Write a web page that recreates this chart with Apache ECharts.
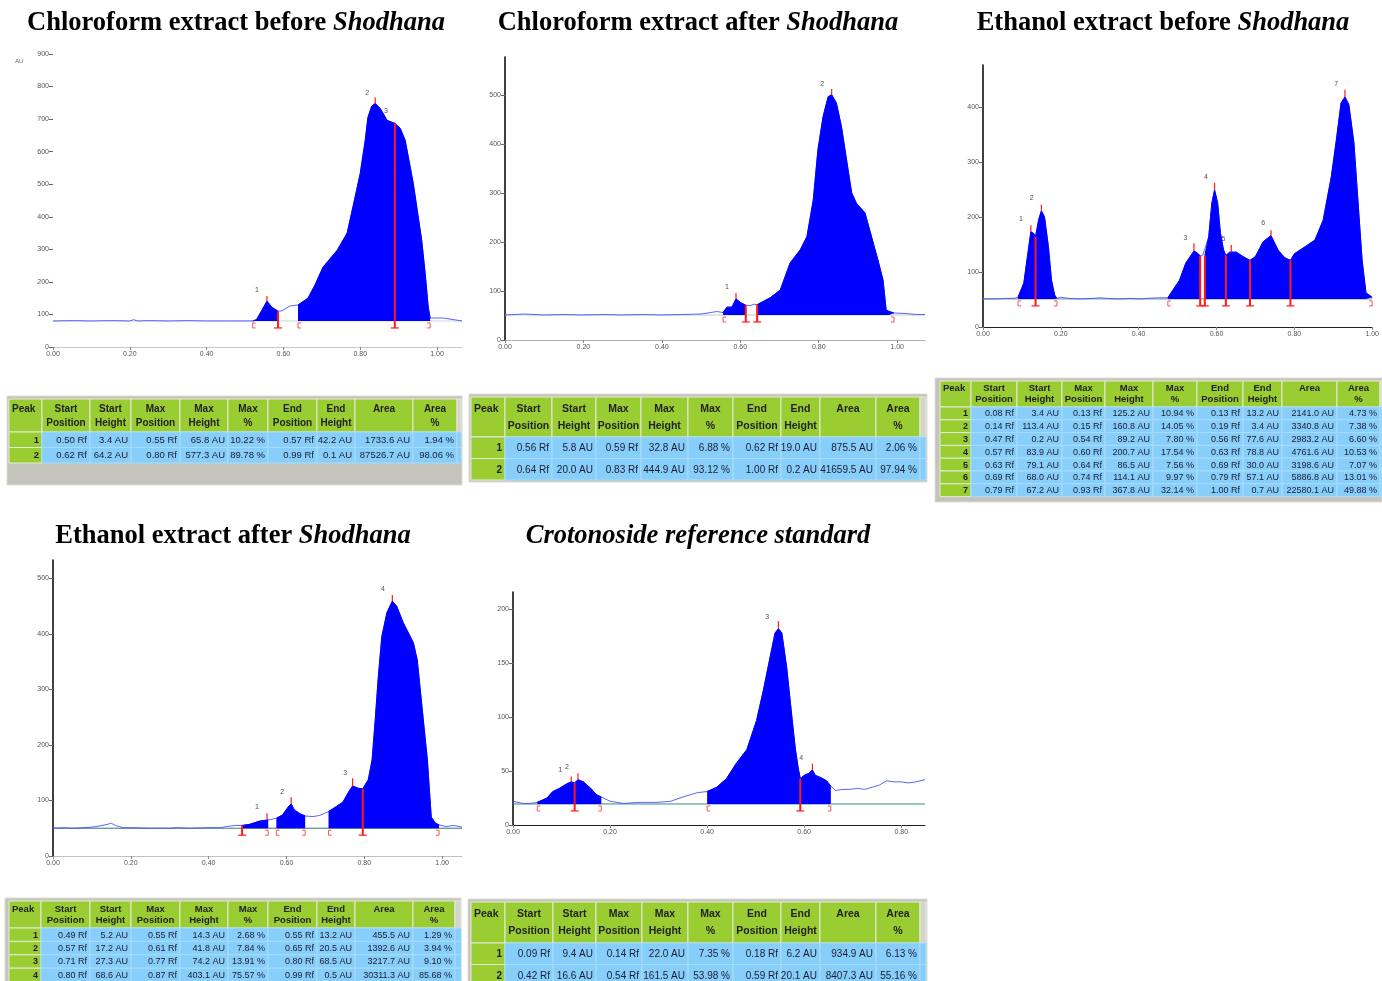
<!DOCTYPE html>
<html>
<head>
<meta charset="utf-8">
<script src="https://cdn.jsdelivr.net/npm/echarts@6/dist/echarts.min.js"></script>
<style>
html,body{margin:0;padding:0;background:#fff;}
#chart{width:1382px;height:981px;}
</style>
</head>
<body>
<div id="chart"></div>
<script>
// ---------- densitogram traces: Rf position and detector response (AU) ----------
const cbRf = [0, 0.05, 0.1, 0.15, 0.2, 0.21, 0.22, 0.25, 0.3, 0.35, 0.4, 0.45, 0.5, 0.52, 0.53, 0.545, 0.557, 0.57, 0.586, 0.596, 0.617, 0.638, 0.664, 0.682, 0.703, 0.74, 0.766, 0.781, 0.8, 0.813, 0.82, 0.83, 0.839, 0.852, 0.87, 0.89, 0.904, 0.917, 0.938, 0.96, 0.969, 0.977, 0.982, 0.987, 1.016, 1.065];
const cbAu = [80, 81, 80, 81, 80, 84, 80, 81, 80, 81, 80, 80, 80, 80, 84, 115, 141, 122, 110, 111, 126, 129, 150, 190, 245, 297, 350, 430, 533, 635, 705, 740, 748, 733, 696, 687, 672, 635, 503, 328, 227, 123, 89, 95, 89, 80];

const caRf = [0, 0.05, 0.1, 0.15, 0.2, 0.25, 0.3, 0.35, 0.4, 0.45, 0.5, 0.54, 0.556, 0.566, 0.579, 0.589, 0.601, 0.614, 0.625, 0.635, 0.643, 0.676, 0.702, 0.727, 0.753, 0.77, 0.786, 0.798, 0.811, 0.824, 0.833, 0.845, 0.858, 0.871, 0.884, 0.896, 0.918, 0.93, 0.951, 0.964, 0.972, 0.98, 0.992, 1.02, 1.05, 1.071];
const caAu = [51, 53, 51, 52, 51, 52, 51, 52, 51, 52, 53, 58, 56, 67, 67, 84, 76, 71, 70, 73, 72, 86, 102, 157, 184, 211, 285, 388, 455, 496, 500, 483, 435, 367, 300, 279, 259, 224, 163, 122, 61, 58, 55, 54, 52, 52];

const ebRf = [0, 0.03, 0.06, 0.08, 0.09, 0.105, 0.113, 0.123, 0.13, 0.135, 0.143, 0.15, 0.158, 0.168, 0.176, 0.184, 0.19, 0.2, 0.22, 0.25, 0.28, 0.3, 0.32, 0.35, 0.38, 0.4, 0.42, 0.45, 0.475, 0.488, 0.505, 0.521, 0.542, 0.55, 0.558, 0.565, 0.57, 0.58, 0.588, 0.595, 0.603, 0.61, 0.618, 0.624, 0.634, 0.651, 0.668, 0.686, 0.7, 0.72, 0.74, 0.758, 0.775, 0.79, 0.8, 0.828, 0.853, 0.874, 0.895, 0.908, 0.92, 0.93, 0.94, 0.953, 0.965, 0.974, 0.984, 1.0];
const ebAu = [51, 51, 52, 52, 54, 80, 122, 173, 170, 164, 195, 211, 200, 146, 85, 58, 52, 54, 52, 51, 52, 53, 52, 51, 52, 51, 52, 53, 53, 67, 85, 116, 138, 135, 129, 131, 130, 164, 225, 249, 225, 171, 140, 130, 136, 136, 128, 121, 128, 155, 166, 140, 126, 121, 133, 146, 158, 194, 273, 340, 407, 418, 404, 335, 213, 122, 62, 54];

const eaRf = [0, 0.03, 0.05, 0.08, 0.1, 0.12, 0.14, 0.15, 0.16, 0.18, 0.2, 0.25, 0.3, 0.32, 0.35, 0.4, 0.43, 0.445, 0.47, 0.486, 0.505, 0.532, 0.553, 0.561, 0.574, 0.59, 0.604, 0.612, 0.62, 0.635, 0.648, 0.668, 0.685, 0.708, 0.728, 0.745, 0.762, 0.77, 0.784, 0.796, 0.81, 0.82, 0.828, 0.836, 0.845, 0.858, 0.872, 0.883, 0.9, 0.926, 0.936, 0.949, 0.962, 0.972, 0.983, 0.992, 1.01, 1.03, 1.051];
const eaAu = [50, 51, 50, 51, 52, 54, 57, 59, 55, 51, 51, 50, 50, 51, 50, 51, 51, 53, 55, 55, 57, 63, 65, 66, 68, 74, 88, 94, 83, 76, 72, 71, 73, 80, 89, 97, 118, 126, 122, 121, 137, 173, 245, 323, 395, 438, 459, 450, 420, 384, 353, 263, 173, 70, 59, 56, 53, 55, 52];

const crRf = [0, 0.02, 0.035, 0.05, 0.07, 0.082, 0.096, 0.11, 0.12, 0.127, 0.134, 0.145, 0.16, 0.172, 0.182, 0.2, 0.228, 0.262, 0.297, 0.325, 0.35, 0.38, 0.4, 0.42, 0.44, 0.46, 0.482, 0.502, 0.516, 0.53, 0.54, 0.547, 0.554, 0.564, 0.574, 0.582, 0.588, 0.592, 0.6, 0.61, 0.617, 0.623, 0.634, 0.646, 0.655, 0.665, 0.68, 0.695, 0.71, 0.725, 0.74, 0.755, 0.77, 0.785, 0.8, 0.815, 0.83, 0.849];
const crAu = [22, 20, 20, 21, 25, 31, 34, 38, 40, 39, 42, 40, 34, 28, 26, 22, 20, 21, 21, 22, 26, 30, 31, 35, 43, 57, 70, 97, 125, 156, 178, 182, 178, 146, 103, 70, 52, 43, 46, 48, 51, 46, 44, 41, 36, 32, 33, 33, 34, 33, 35, 37, 41, 40, 40, 39, 40, 42];

// ---------- baselines, integrated ranges and peak marks ----------
const cbBase = 80, caBase = 51, ebBase = 51, eaBase = 50, crBase = 19.5;

const cbFills = [[0.52, 0.586], [0.638, 0.982]];
const caFills = [[0.556, 0.614], [0.643, 0.992]];
const ebFills = [[0.09, 0.19], [0.475, 0.558], [0.57, 1.0]];
const eaFills = [[0.486, 0.553], [0.574, 0.648], [0.708, 0.992]];
const crFills = [[0.05, 0.182], [0.4, 0.655]];

const cbMaxRf = [0.557, 0.839], cbMaxTop = [157, 766];
const caMaxRf = [0.589, 0.833], caMaxTop = [96, 512];
const ebMaxRf = [0.123, 0.15, 0.542, 0.595, 0.638, 0.74, 0.93], ebMaxTop = [185, 222, 152, 262, 149, 176, 431];
const eaMaxRf = [0.55, 0.612, 0.77, 0.872], eaMaxTop = [77, 106, 140, 470];
const crMaxRf = [0.12, 0.134, 0.547, 0.617], crMaxTop = [45, 48, 189, 57];

// edge kinds: 1 shared boundary, 2 start bracket, 3 end bracket
const cbEdges = [0.52, 0.586, 0.638, 0.89, 0.982], cbEdgeKind = [2, 1, 2, 1, 3];
const caEdges = [0.556, 0.614, 0.643, 0.992], caEdgeKind = [2, 1, 1, 3];
const ebEdges = [0.09, 0.135, 0.19, 0.475, 0.558, 0.57, 0.624, 0.686, 0.79, 1.0], ebEdgeKind = [2, 1, 3, 2, 1, 1, 1, 1, 1, 3];
const eaEdges = [0.486, 0.553, 0.574, 0.648, 0.708, 0.796, 0.992], eaEdgeKind = [1, 3, 2, 3, 2, 1, 3];
const crEdges = [0.05, 0.127, 0.182, 0.4, 0.592, 0.655], crEdgeKind = [2, 1, 3, 2, 1, 3];

const cbLabTxt = ['1', '2', '3'], cbLabRf = [0.531, 0.818, 0.867], cbLabAu = [175, 780, 725];
const caLabTxt = ['1', '2'], caLabRf = [0.566, 0.809], caLabAu = [108, 522];
const ebLabTxt = ['1', '2', '3', '4', '5', '6', '7'], ebLabRf = [0.0975, 0.125, 0.52, 0.573, 0.618, 0.72, 0.9075], ebLabAu = [196, 235, 162, 273, 160, 189, 442];
const eaLabTxt = ['1', '2', '3', '4'], eaLabRf = [0.524, 0.589, 0.751, 0.848], eaLabAu = [88, 115, 150, 481];
const crLabTxt = ['1', '2', '3', '4'], crLabRf = [0.097, 0.111, 0.524, 0.594], crLabAu = [51, 54, 193, 62];

// ---------- axis ticks ----------
const rfTicks = [0, 0.2, 0.4, 0.6, 0.8, 1.0];
const crRfTicks = [0, 0.2, 0.4, 0.6, 0.8];
const cbAuTicks = [0, 100, 200, 300, 400, 500, 600, 700, 800, 900];
const caAuTicks = [0, 100, 200, 300, 400, 500];
const ebAuTicks = [0, 100, 200, 300, 400];
const eaAuTicks = [0, 100, 200, 300, 400, 500];
const crAuTicks = [0, 50, 100, 150, 200];

// ---------- peak tables ----------
const headLine1 = ['Peak', 'Start', 'Start', 'Max', 'Max', 'Max', 'End', 'End', 'Area', 'Area'];
const headLine2 = ['', 'Position', 'Height', 'Position', 'Height', '%', 'Position', 'Height', '', '%'];
const cbRows = [
  ['1', '0.50 Rf', '3.4 AU', '0.55 Rf', '65.8 AU', '10.22 %', '0.57 Rf', '42.2 AU', '1733.6 AU', '1.94 %'],
  ['2', '0.62 Rf', '64.2 AU', '0.80 Rf', '577.3 AU', '89.78 %', '0.99 Rf', '0.1 AU', '87526.7 AU', '98.06 %']
];
const caRows = [
  ['1', '0.56 Rf', '5.8 AU', '0.59 Rf', '32.8 AU', '6.88 %', '0.62 Rf', '19.0 AU', '875.5 AU', '2.06 %'],
  ['2', '0.64 Rf', '20.0 AU', '0.83 Rf', '444.9 AU', '93.12 %', '1.00 Rf', '0.2 AU', '41659.5 AU', '97.94 %']
];
const ebRows = [
  ['1', '0.08 Rf', '3.4 AU', '0.13 Rf', '125.2 AU', '10.94 %', '0.13 Rf', '13.2 AU', '2141.0 AU', '4.73 %'],
  ['2', '0.14 Rf', '113.4 AU', '0.15 Rf', '160.8 AU', '14.05 %', '0.19 Rf', '3.4 AU', '3340.8 AU', '7.38 %'],
  ['3', '0.47 Rf', '0.2 AU', '0.54 Rf', '89.2 AU', '7.80 %', '0.56 Rf', '77.6 AU', '2983.2 AU', '6.60 %'],
  ['4', '0.57 Rf', '83.9 AU', '0.60 Rf', '200.7 AU', '17.54 %', '0.63 Rf', '78.8 AU', '4761.6 AU', '10.53 %'],
  ['5', '0.63 Rf', '79.1 AU', '0.64 Rf', '86.5 AU', '7.56 %', '0.69 Rf', '30.0 AU', '3198.6 AU', '7.07 %'],
  ['6', '0.69 Rf', '68.0 AU', '0.74 Rf', '114.1 AU', '9.97 %', '0.79 Rf', '57.1 AU', '5886.8 AU', '13.01 %'],
  ['7', '0.79 Rf', '67.2 AU', '0.93 Rf', '367.8 AU', '32.14 %', '1.00 Rf', '0.7 AU', '22580.1 AU', '49.88 %']
];
const eaRows = [
  ['1', '0.49 Rf', '5.2 AU', '0.55 Rf', '14.3 AU', '2.68 %', '0.55 Rf', '13.2 AU', '455.5 AU', '1.29 %'],
  ['2', '0.57 Rf', '17.2 AU', '0.61 Rf', '41.8 AU', '7.84 %', '0.65 Rf', '20.5 AU', '1392.6 AU', '3.94 %'],
  ['3', '0.71 Rf', '27.3 AU', '0.77 Rf', '74.2 AU', '13.91 %', '0.80 Rf', '68.5 AU', '3217.7 AU', '9.10 %'],
  ['4', '0.80 Rf', '68.6 AU', '0.87 Rf', '403.1 AU', '75.57 %', '0.99 Rf', '0.5 AU', '30311.3 AU', '85.68 %']
];
const crRows = [
  ['1', '0.09 Rf', '9.4 AU', '0.14 Rf', '22.0 AU', '7.35 %', '0.18 Rf', '6.2 AU', '934.9 AU', '6.13 %'],
  ['2', '0.42 Rf', '16.6 AU', '0.54 Rf', '161.5 AU', '53.98 %', '0.59 Rf', '20.1 AU', '8407.3 AU', '55.16 %']
];

// ---------- helpers ----------
function valueAt(xs, ys, x) {
  if (x <= xs[0]) return ys[0];
  for (let i = 1; i < xs.length; i++) {
    if (x <= xs[i]) {
      const t = (x - xs[i - 1]) / (xs[i] - xs[i - 1]);
      return ys[i - 1] + t * (ys[i] - ys[i - 1]);
    }
  }
  return ys[ys.length - 1];
}
function segment(xs, ys, a, b) {
  const out = [[a, valueAt(xs, ys, a)]];
  for (let i = 0; i < xs.length; i++) if (xs[i] > a && xs[i] < b) out.push([xs[i], ys[i]]);
  out.push([b, valueAt(xs, ys, b)]);
  return out;
}

const BLUE = '#0000ff';
const RED = '#ff1a1a';
const LABEL_FONT = 'Liberation Sans';

const panels = [
  { rf: cbRf, au: cbAu, base: cbBase, fills: cbFills, maxRf: cbMaxRf, maxTop: cbMaxTop, edges: cbEdges, kinds: cbEdgeKind,
    labT: cbLabTxt, labX: cbLabRf, labY: cbLabAu, xTicks: rfTicks, yTicks: cbAuTicks,
    grid: { left: 53, top: 54, width: 409, height: 293 }, xMax: 1.065, yMax: 900,
    yLine: false, xLineColor: '#c8c8c8', baseColor: '#c9d8d3' },
  { rf: caRf, au: caAu, base: caBase, fills: caFills, maxRf: caMaxRf, maxTop: caMaxTop, edges: caEdges, kinds: caEdgeKind,
    labT: caLabTxt, labX: caLabRf, labY: caLabAu, xTicks: rfTicks, yTicks: caAuTicks,
    grid: { left: 505, top: 57, width: 420, height: 283 }, xMax: 1.071, yMax: 577,
    yLine: true, xLineColor: '#b0b0b0', baseColor: '#b5cdc5' },
  { rf: ebRf, au: ebAu, base: ebBase, fills: ebFills, maxRf: ebMaxRf, maxTop: ebMaxTop, edges: ebEdges, kinds: ebEdgeKind,
    labT: ebLabTxt, labX: ebLabRf, labY: ebLabAu, xTicks: rfTicks, yTicks: ebAuTicks,
    grid: { left: 983, top: 65, width: 400, height: 262 }, xMax: 1.0, yMax: 476,
    yLine: true, xLineColor: '#222', baseColor: '#5c9c92' },
  { rf: eaRf, au: eaAu, base: eaBase, fills: eaFills, maxRf: eaMaxRf, maxTop: eaMaxTop, edges: eaEdges, kinds: eaEdgeKind,
    labT: eaLabTxt, labX: eaLabRf, labY: eaLabAu, xTicks: rfTicks, yTicks: eaAuTicks,
    grid: { left: 53, top: 560, width: 409, height: 296 }, xMax: 1.051, yMax: 533,
    yLine: true, xLineColor: '#c0c0c0', baseColor: '#2f7f6f' },
  { rf: crRf, au: crAu, base: crBase, fills: crFills, maxRf: crMaxRf, maxTop: crMaxTop, edges: crEdges, kinds: crEdgeKind,
    labT: crLabTxt, labX: crLabRf, labY: crLabAu, xTicks: crRfTicks, yTicks: crAuTicks,
    grid: { left: 513, top: 592, width: 412, height: 233 }, xMax: 0.849, yMax: 216,
    yLine: true, xLineColor: '#222', baseColor: '#2f8f7f' }
];

const grids = [], xAxes = [], yAxes = [], series = [];

panels.forEach((p, i) => {
  grids.push(Object.assign({ containLabel: false }, p.grid));
  xAxes.push({
    gridIndex: i, type: 'value', min: 0, max: p.xMax,
    axisLine: { show: true, onZero: false, lineStyle: { color: p.xLineColor, width: 1 } },
    axisTick: { show: true, customValues: p.xTicks, length: 3, lineStyle: { color: '#888' } },
    axisLabel: { customValues: p.xTicks, formatter: v => v.toFixed(2), fontSize: 7, color: '#555', margin: 4, fontFamily: LABEL_FONT },
    splitLine: { show: false }
  });
  yAxes.push({
    gridIndex: i, type: 'value', min: 0, max: p.yMax,
    axisLine: { show: p.yLine, onZero: false, lineStyle: { color: '#000', width: 1.5 } },
    axisTick: { show: true, customValues: p.yTicks, length: 4, lineStyle: { color: '#666' } },
    axisLabel: { customValues: p.yTicks, fontSize: 7, color: '#555', margin: 4, fontFamily: LABEL_FONT },
    splitLine: { show: false }
  });

  // baseline
  series.push({
    type: 'line', xAxisIndex: i, yAxisIndex: i, silent: true, symbol: 'none', z: 1,
    data: [[0, p.base], [p.xMax, p.base]],
    lineStyle: { color: p.baseColor, width: 1 }
  });
  // full scan trace
  series.push({
    type: 'line', xAxisIndex: i, yAxisIndex: i, silent: true, symbol: 'none', z: 2,
    data: p.rf.map((x, k) => [x, p.au[k]]),
    lineStyle: { color: '#4545ff', width: 1, opacity: 0.85 }
  });
  // integrated peak areas
  p.fills.forEach(([a, b]) => {
    series.push({
      type: 'line', xAxisIndex: i, yAxisIndex: i, silent: true, symbol: 'none', z: 3,
      data: segment(p.rf, p.au, a, b),
      lineStyle: { color: BLUE, width: 1 },
      areaStyle: { color: BLUE, opacity: 1, origin: p.base }
    });
  });
  // red peak-maximum ticks and boundary marks
  const marks = [];
  p.maxRf.forEach((x, k) => marks.push([x, valueAt(p.rf, p.au, x), p.maxTop[k], 0]));
  p.edges.forEach((x, k) => marks.push([x, p.base, valueAt(p.rf, p.au, x), p.kinds[k]]));
  series.push({
    type: 'custom', xAxisIndex: i, yAxisIndex: i, silent: true, z: 5,
    encode: { x: 0, y: [1, 2] },
    data: marks,
    renderItem(params, api) {
      const x = api.value(0), yb = api.value(1), yt = api.value(2), kind = api.value(3);
      const pb = api.coord([x, yb]), pt = api.coord([x, yt]);
      if (kind === 0) {
        return { type: 'line', shape: { x1: pb[0], y1: pb[1], x2: pt[0], y2: pt[1] }, style: { stroke: RED, lineWidth: 1.2 } };
      }
      const foot = pb[1] + 7;
      const children = [];
      if (kind === 1) {
        children.push({ type: 'line', shape: { x1: pb[0], y1: pt[1], x2: pb[0], y2: foot }, style: { stroke: RED, lineWidth: 2 } });
        children.push({ type: 'line', shape: { x1: pb[0] - 4, y1: foot, x2: pb[0] + 4, y2: foot }, style: { stroke: RED, lineWidth: 1.2 } });
      } else {
        const d = kind === 2 ? 3 : -3;
        children.push({
          type: 'polyline',
          shape: { points: [[pb[0] + d, pb[1] + 2], [pb[0], pb[1] + 2], [pb[0], foot], [pb[0] + d, foot]] },
          style: { stroke: '#ff5050', fill: null, lineWidth: 1 }
        });
      }
      return { type: 'group', children };
    }
  });
  // peak numbers
  series.push({
    type: 'scatter', xAxisIndex: i, yAxisIndex: i, silent: true, z: 6,
    symbolSize: 1, itemStyle: { color: 'rgba(0,0,0,0)' },
    data: p.labT.map((t, k) => ({ name: t, value: [p.labX[k], p.labY[k]] })),
    label: { show: true, position: 'inside', formatter: '{b}', fontSize: 7, color: '#222', fontFamily: LABEL_FONT }
  });
});

// ---------- titles ----------
const graphics = [];
function title(x, y, plain, italicPart, allItalic) {
  const base = { fontSize: 26.5, fontWeight: 'bold', fontFamily: 'Liberation Serif', fill: '#000' };
  graphics.push({
    type: 'text', x, y, silent: true,
    style: Object.assign({}, base, {
      text: allItalic ? plain : plain + '{i|' + italicPart + '}',
      fontStyle: allItalic ? 'italic' : 'normal',
      align: 'center', verticalAlign: 'middle',
      rich: { i: Object.assign({}, base, { fontStyle: 'italic' }) }
    })
  });
}
title(236, 23, 'Chloroform extract before ', 'Shodhana');
title(698, 23, 'Chloroform extract after ', 'Shodhana');
title(1163, 23, 'Ethanol extract before ', 'Shodhana');
title(233, 536, 'Ethanol extract after ', 'Shodhana');
title(698, 536, 'Crotonoside reference standard', '', true);
graphics.push({ type: 'text', x: 15, y: 61, silent: true,
  style: { text: 'AU', fontSize: 6, fill: '#666', fontFamily: LABEL_FONT, align: 'left', verticalAlign: 'middle' } });

// ---------- tables ----------
const GREEN = '#9acd32', SKY = '#87cefa';
function table(edges, top, headH, rowH, rows, frame, fs, hfs) {
  graphics.push({ type: 'rect', silent: true, shape: { x: frame[0], y: frame[1], width: frame[2], height: frame[3] },
    style: { fill: '#c4c4bc', stroke: '#dcdcd4', lineWidth: 1 } });
  const n = edges.length - 1;
  for (let c = 0; c < n; c++) {
    const x = edges[c], w = edges[c + 1] - edges[c];
    const extra = c >= 10;
    graphics.push({ type: 'rect', silent: true, shape: { x, y: top, width: w, height: headH },
      style: { fill: extra ? '#d4d4cc' : GREEN, stroke: '#e4ead8', lineWidth: 1 } });
    if (!extra) {
      if (c === 0) {
        graphics.push({ type: 'text', silent: true, x: x + 3, y: top + headH * 0.3,
          style: { text: headLine1[c], fontSize: hfs, fontWeight: 'bold', fontFamily: LABEL_FONT, fill: '#222', align: 'left', verticalAlign: 'middle' } });
      } else {
        graphics.push({ type: 'text', silent: true, x: x + w / 2, y: top + headH * 0.3,
          style: { text: headLine1[c], fontSize: hfs, fontWeight: 'bold', fontFamily: LABEL_FONT, fill: '#222', align: 'center', verticalAlign: 'middle' } });
        if (headLine2[c]) graphics.push({ type: 'text', silent: true, x: x + w / 2, y: top + headH * 0.72,
          style: { text: headLine2[c], fontSize: hfs, fontWeight: 'bold', fontFamily: LABEL_FONT, fill: '#222', align: 'center', verticalAlign: 'middle' } });
      }
    }
    rows.forEach((r, ri) => {
      const y = top + headH + ri * rowH;
      graphics.push({ type: 'rect', silent: true, shape: { x, y, width: w, height: rowH },
        style: { fill: c === 0 ? GREEN : SKY, stroke: c === 0 ? '#e4ead8' : '#a8dcfb', lineWidth: 1 } });
      if (!extra) graphics.push({ type: 'text', silent: true, x: x + w - 3, y: y + rowH / 2 + 0.5,
        style: { text: r[c], fontSize: fs, fontWeight: c === 0 ? 'bold' : 'normal', fontFamily: LABEL_FONT, fill: '#1c1c30', align: 'right', verticalAlign: 'middle' } });
    });
  }
}
table([9, 42, 90, 131, 180, 228, 268, 317, 355, 413, 457, 461], 399, 33, 15.5, cbRows, [7, 396, 455, 89], 9.5, 10);
table([471, 505, 552, 596, 641, 688, 733, 781, 820, 876, 920, 926], 397, 40, 21.5, caRows, [469, 394, 458, 88], 10, 10.5);
table([940, 971, 1017, 1062, 1105, 1153, 1197, 1243, 1282, 1337, 1380, 1382], 381, 26, 12.8, ebRows, [935, 378, 447, 124], 9, 9.5);
table([9, 41, 90, 131, 180, 228, 268, 317, 355, 413, 455, 461], 901, 27, 13.4, eaRows, [5, 898, 456, 84], 9, 9.5);
table([471, 505, 553, 596, 642, 688, 733, 781, 820, 876, 920, 926], 902, 41, 21.5, crRows, [468, 899, 459, 83], 10, 10.5);

const chart = echarts.init(document.getElementById('chart'), null, { renderer: 'canvas' });
chart.setOption({
  animation: false,
  backgroundColor: '#fff',
  grid: grids,
  xAxis: xAxes,
  yAxis: yAxes,
  series: series,
  graphic: { elements: graphics }
});
</script>
</body>
</html>
